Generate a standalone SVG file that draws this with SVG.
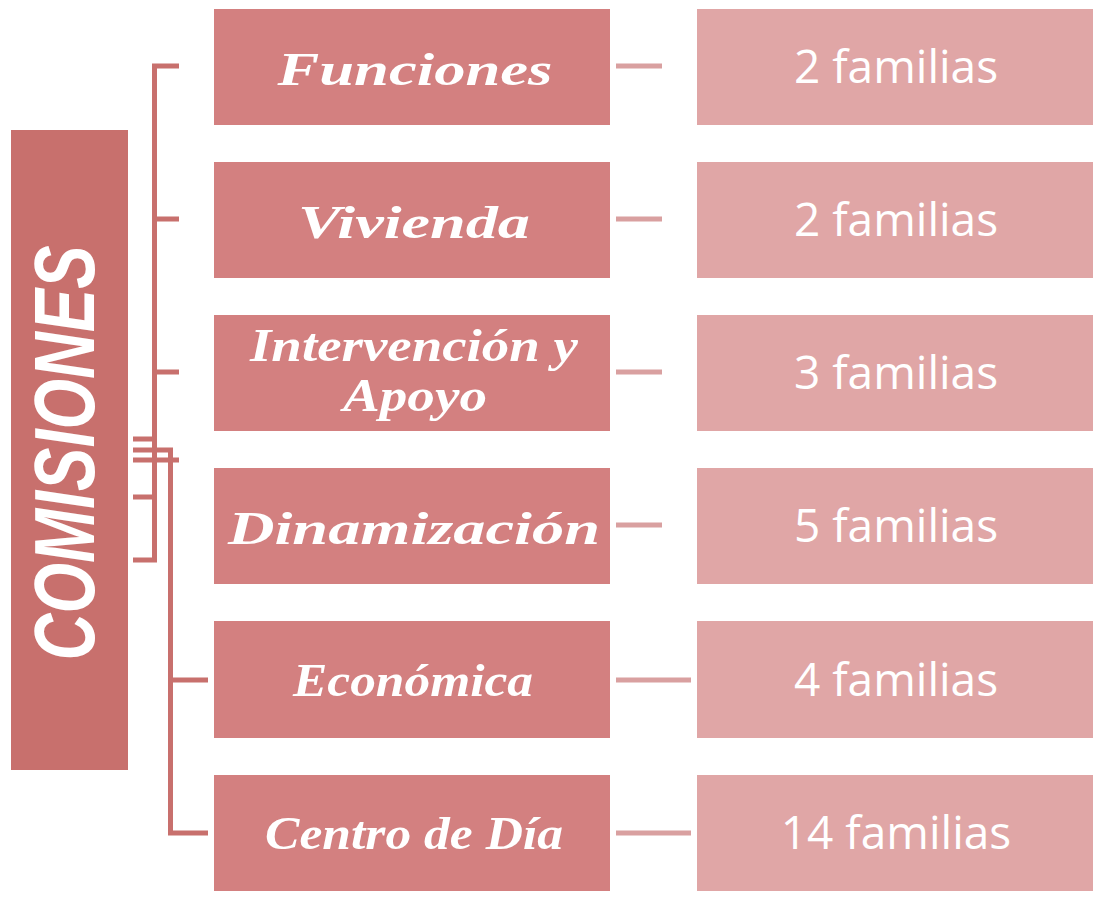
<svg xmlns="http://www.w3.org/2000/svg" width="1097" height="899" viewBox="0 0 1097 899">
<style>
.mid{fill:#D38080}
.rgt{fill:#E0A6A6}
.mt{font-family:"Liberation Serif",serif;font-style:italic;font-weight:bold;font-size:46px;fill:#fff;text-anchor:middle}
.rt{font-family:"Open Sans","Liberation Sans",sans-serif;font-size:46px;fill:#fff;text-anchor:middle}
.c{stroke:#C8706D;stroke-width:5;fill:none}
.c2{stroke:#D9A0A0;stroke-width:5;fill:none}
</style>
<rect width="1097" height="899" fill="#fff"/>
<g id="comisiones">
<rect x="11" y="130" width="117" height="640" fill="#C8706D"/>
<text transform="translate(94,453) rotate(-90)" font-family="Liberation Sans,sans-serif" font-weight="bold" font-style="italic" font-size="86" fill="#fff" text-anchor="middle" textLength="415" lengthAdjust="spacingAndGlyphs">COMISIONES</text>
</g>
<g id="connectors">
<path class="c" d="M179 66H154.5V560H133M154.5 219H179M154.5 372H179M133 497H154.5M133 439H154.5M133 460H179"/>
<path class="c" d="M133 450H170.5V833H208M170.5 680H208"/>
<path class="c2" d="M616 66H662M616 219H662M616 372H662M616 525H662M616 680H691M616 833H691"/>
</g>
<g id="funciones"><rect class="mid" x="214" y="9" width="396" height="116"/><text class="mt" x="415" y="85" textLength="275" lengthAdjust="spacingAndGlyphs">Funciones</text></g>
<g id="vivienda"><rect class="mid" x="214" y="162" width="396" height="116"/><text class="mt" x="414" y="238" textLength="232" lengthAdjust="spacingAndGlyphs">Vivienda</text></g>
<g id="intervencion"><rect class="mid" x="214" y="315" width="396" height="116"/><text class="mt" x="414" y="361" font-size="42" textLength="328" lengthAdjust="spacingAndGlyphs">Intervención y</text><text class="mt" x="415" y="411" font-size="42" textLength="144" lengthAdjust="spacingAndGlyphs">Apoyo</text></g>
<g id="dinamizacion"><rect class="mid" x="214" y="468" width="396" height="116"/><text class="mt" x="414" y="544" textLength="372" lengthAdjust="spacingAndGlyphs">Dinamización</text></g>
<g id="economica"><rect class="mid" x="214" y="621" width="396" height="117"/><text class="mt" x="413" y="696" textLength="240" lengthAdjust="spacingAndGlyphs">Económica</text></g>
<g id="centro"><rect class="mid" x="214" y="775" width="396" height="116"/><text class="mt" x="414" y="849" textLength="298" lengthAdjust="spacingAndGlyphs">Centro de Día</text></g>
<g id="f1"><rect class="rgt" x="697" y="9" width="396" height="116"/><text class="rt" x="896" y="83">2 familias</text></g>
<g id="f2"><rect class="rgt" x="697" y="162" width="396" height="116"/><text class="rt" x="896" y="236">2 familias</text></g>
<g id="f3"><rect class="rgt" x="697" y="315" width="396" height="116"/><text class="rt" x="896" y="389">3 familias</text></g>
<g id="f4"><rect class="rgt" x="697" y="468" width="396" height="116"/><text class="rt" x="896" y="542">5 familias</text></g>
<g id="f5"><rect class="rgt" x="697" y="621" width="396" height="117"/><text class="rt" x="896" y="696">4 familias</text></g>
<g id="f6"><rect class="rgt" x="697" y="775" width="396" height="116"/><text class="rt" x="896" y="849">14 familias</text></g>
</svg>
